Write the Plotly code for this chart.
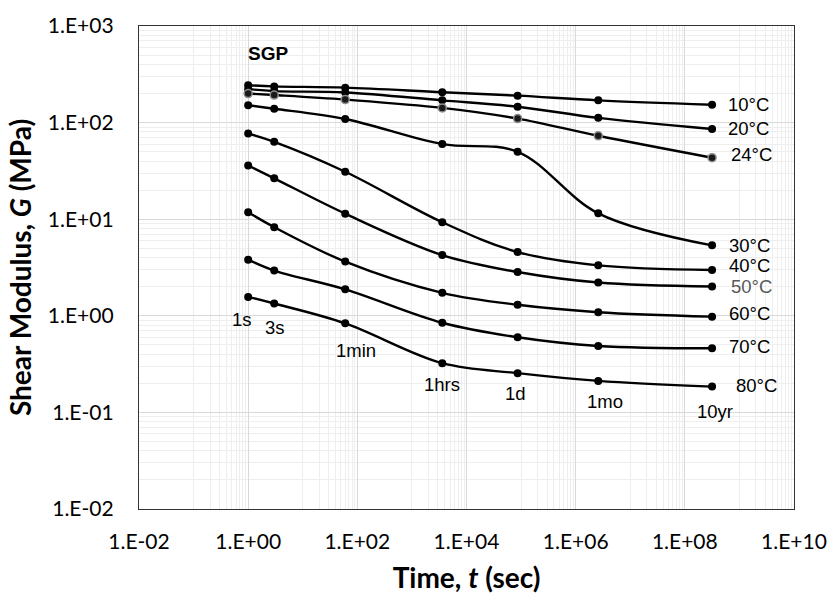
import math
import plotly.graph_objects as go

# Loading time (s) at which the shear modulus was read
time_s = [1, 3, 60, 3600, 86400, 2592000, 315360000]
time_labels = ["1s", "3s", "1min", "1hrs", "1d", "1mo", "10yr"]

temperatures = ["10°C", "20°C", "24°C", "30°C", "40°C", "50°C", "60°C", "70°C", "80°C"]

# Shear modulus G (MPa) per temperature
g_10 = [244, 237, 230, 206, 190, 170, 153]
g_20 = [222, 212, 205, 170, 146, 112, 86]
g_24 = [200, 193, 173, 142, 110, 73, 43.3]
g_30 = [151, 139, 109, 59.9, 49.9, 11.5, 5.36]
g_40 = [77.0, 63.2, 31.0, 9.31, 4.57, 3.33, 2.98]
g_50 = [36.0, 26.5, 11.4, 4.25, 2.84, 2.21, 2.01]
g_60 = [11.8, 8.27, 3.64, 1.73, 1.30, 1.09, 0.98]
g_70 = [3.81, 2.94, 1.88, 0.847, 0.599, 0.487, 0.461]
g_80 = [1.57, 1.34, 0.835, 0.323, 0.255, 0.212, 0.185]

x_tick_vals = [1e-2, 1e0, 1e2, 1e4, 1e6, 1e8, 1e10]
x_tick_text = ["1.E-02", "1.E+00", "1.E+02", "1.E+04", "1.E+06", "1.E+08", "1.E+10"]
y_tick_vals = [1e-2, 1e-1, 1e0, 1e1, 1e2, 1e3]
y_tick_text = ["1.E-02", "1.E-01", "1.E+00", "1.E+01", "1.E+02", "1.E+03"]

series = [g_10, g_20, g_24, g_30, g_40, g_50, g_60, g_70, g_80]

# label styling: colour and pixel offsets from the last point of each curve
temp_colors = ["#000000"] * 9
temp_colors[5] = "#595959"
temp_dx = [14, 14, 17, 15, 15, 17, 15, 15, 22]
temp_dy = [0, 0, 3, 0, 4, 0, 3, 2, 1]
# pixel offsets of the time labels from the 80°C points
time_dx = [-6, 1, 11, 0, -2, 7, 3]
time_dy = [-23, -24, -27, -21, -20, -21, -25]

fig = go.Figure()

for name, g in zip(temperatures, series):
    marker = dict(size=8, color="#000000")
    if name == "24°C":
        marker = dict(size=8, color="#1a1a1a", line=dict(color="#8c8c8c", width=1.5))
    fig.add_trace(go.Scatter(
        x=time_s, y=g, name=name, mode="lines+markers",
        line=dict(color="#000000", width=2.4, shape="spline", smoothing=1.0),
        marker=marker, showlegend=False,
    ))

label_font = dict(family="Liberation Sans, Arial, sans-serif", size=18.5)

# annotations on log axes are placed in log10 units
for name, g, c, dx, dy in zip(temperatures, series, temp_colors, temp_dx, temp_dy):
    fig.add_annotation(
        x=math.log10(time_s[-1]), y=math.log10(g[-1]), xref="x", yref="y",
        text=name, showarrow=False, xanchor="left", yanchor="middle",
        xshift=dx, yshift=dy, font=dict(label_font, color=c),
    )

for t, g, lab, dx, dy in zip(time_s, g_80, time_labels, time_dx, time_dy):
    fig.add_annotation(
        x=math.log10(t), y=math.log10(g), xref="x", yref="y",
        text=lab, showarrow=False, xanchor="center", yanchor="middle",
        xshift=dx, yshift=dy, font=dict(label_font, color="#000000"),
    )

fig.add_annotation(
    x=math.log10(time_s[0]), y=3, xref="x", yref="y",
    text="<b>SGP</b>", showarrow=False, xanchor="left", yanchor="middle",
    xshift=-2, yshift=-27, font=dict(family="Liberation Sans, Arial, sans-serif", size=19, color="#000000"),
)

# minor grid positions: x every m*10^k for odd k, y every m*10^k
x_minor = [m * 10.0 ** k for k in (-1, 1, 3, 5, 7, 9) for m in range(1, 10)]
y_minor = [m * 10.0 ** k for k in range(-2, 3) for m in range(2, 10)]

axis_font = dict(family="Lato, Open Sans, sans-serif", size=21, color="#000000")
title_font = dict(family="Lato, Open Sans, sans-serif", size=28, color="#000000")

fig.update_xaxes(
    type="log", range=[-2, 10],
    tickmode="array", tickvals=x_tick_vals, ticktext=x_tick_text,
    tickfont=axis_font, ticks="", ticklabelstandoff=14,
    showgrid=True, gridcolor="#d9d9d9", gridwidth=1,
    minor=dict(tickmode="array", tickvals=x_minor, showgrid=True, gridcolor="#eeeeee", gridwidth=1),
    showline=True, linecolor="#333333", linewidth=1.3, mirror=True,
    zeroline=False,
    title=dict(text="<b>Time, <i>t</i> (sec)</b>", font=title_font, standoff=16),
)
fig.update_yaxes(
    type="log", range=[-2, 3],
    tickmode="array", tickvals=y_tick_vals, ticktext=y_tick_text,
    tickfont=axis_font, ticks="", ticklabelstandoff=20,
    showgrid=True, gridcolor="#d9d9d9", gridwidth=1,
    minor=dict(tickmode="array", tickvals=y_minor, showgrid=True, gridcolor="#eeeeee", gridwidth=1),
    showline=True, linecolor="#333333", linewidth=1.3, mirror=True,
    zeroline=False,
    title=dict(text="<b>Shear Modulus, <i>G</i> (MPa)</b>", font=title_font, standoff=8),
)

fig.update_layout(
    width=839, height=601, autosize=False,
    margin=dict(l=139, r=36, t=25, b=92, pad=0),
    paper_bgcolor="#ffffff", plot_bgcolor="#ffffff",
    showlegend=False,
)

fig.write_html("out.html")
